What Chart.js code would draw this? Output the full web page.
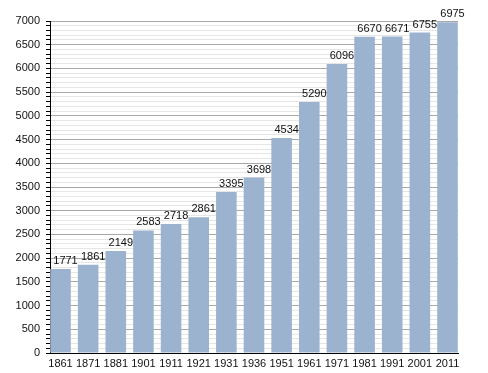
<!DOCTYPE html>
<html>
<head>
<meta charset="utf-8">
<script src="https://cdn.jsdelivr.net/npm/chart.js@4/dist/chart.umd.min.js"></script>
<style>
  html, body { margin: 0; padding: 0; background: #fff; }
  #wrap { width: 488px; height: 373px; }
</style>
</head>
<body>
<div id="wrap"><canvas id="population"></canvas></div>
<script>
const years = ['1861', '1871', '1881', '1901', '1911', '1921', '1931', '1936', '1951', '1961', '1971', '1981', '1991', '2001', '2011'];
const population = [1771, 1861, 2149, 2583, 2718, 2861, 3395, 3698, 4534, 5290, 6096, 6670, 6671, 6755, 6975];
const yMax = 7000;
const yStep = 100;
const yLabelStep = 500;

// labels above each bar (drawn a little to the right, like the original)
const valueLabels = {
    id: 'valueLabels',
    afterDatasetsDraw(chart) {
        const ctx = chart.ctx;
        const meta = chart.getDatasetMeta(0);
        ctx.save();
        ctx.font = '11px "Liberation Sans", Arial, sans-serif';
        ctx.fillStyle = '#111';
        ctx.textAlign = 'center';
        ctx.textBaseline = 'alphabetic';
        meta.data.forEach((bar, i) => {
            ctx.fillText(String(population[i]), bar.x + 5, bar.y - 5);
        });
        ctx.restore();
    }
};

const ctx = document.getElementById('population').getContext('2d');
new Chart(ctx, {
    type: 'bar',
    data: {
        labels: years,
        datasets: [{
            data: population,
            backgroundColor: '#9bb3cf',
            barPercentage: 0.745,
            categoryPercentage: 1.0
        }]
    },
    options: {
        responsive: true,
        maintainAspectRatio: false,
        animation: false,
        layout: { padding: { top: 21, right: 30, left: 0, bottom: 0 } },
        plugins: {
            legend: { display: false },
            tooltip: { enabled: false }
        },
        scales: {
            x: {
                offset: false,
                grid: { display: false, drawTicks: false, tickLength: 0 },
                border: { display: true, color: '#000', width: 1 },
                ticks: {
                    color: '#111',
                    font: { size: 11, family: '"Liberation Sans", Arial, sans-serif' },
                    padding: 4,
                    maxRotation: 0,
                    autoSkip: false
                },
                // bars sit closer to the plot edges than a normal category offset
                afterBuildTicks(scale) {
                    scale._startValue = -0.38;
                    scale._valueRange = years.length - 1 + 0.76;
                },
                afterFit(scale) { scale.height = 20; }
            },
            y: {
                min: 0,
                max: yMax,
                border: { display: true, color: '#000', width: 1 },
                grid: {
                    color: c => (c.tick.value % yLabelStep === 0 ? '#a8a8a8' : '#e6e6e6'),
                    tickColor: '#000',
                    tickLength: 4,
                    drawTicks: true
                },
                ticks: {
                    stepSize: yStep,
                    autoSkip: false,
                    color: '#111',
                    padding: 6,
                    font: { size: 11, family: '"Liberation Sans", Arial, sans-serif' },
                    callback: v => (v % yLabelStep === 0 ? v : '')
                },
                afterFit(scale) { scale.width = 50; }
            }
        }
    },
    plugins: [valueLabels]
});
</script>
</body>
</html>
